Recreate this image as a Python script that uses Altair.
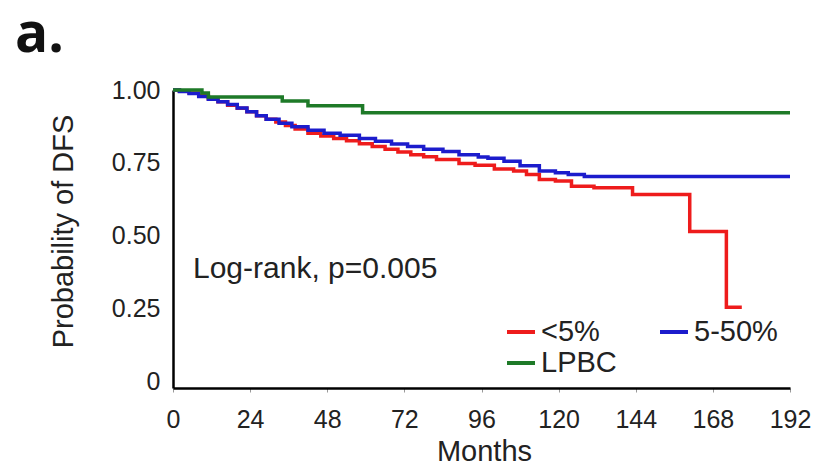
import altair as alt
import pandas as pd

groups = ["<5%", "5-50%", "LPBC"]
colors = ["#ee1c1c", "#1c1ccc", "#1e7a28"]

red_months = [0, 2, 5, 8, 11, 14, 17, 20, 23, 26, 29, 32, 35, 38, 42, 46, 50, 54, 58, 62, 66, 70,
              74, 78, 82, 89, 94, 100, 106, 110, 114, 119, 124, 131, 143, 160.8, 172.2, 177]
red_surv = [1.0, 0.996, 0.99, 0.981, 0.97, 0.96, 0.948, 0.937, 0.925, 0.912, 0.9, 0.89, 0.878, 0.866,
            0.852, 0.842, 0.834, 0.826, 0.816, 0.806, 0.797, 0.787, 0.778, 0.771, 0.762, 0.748, 0.742,
            0.729, 0.722, 0.71, 0.693, 0.688, 0.67, 0.665, 0.642, 0.515, 0.255, 0.255]

blue_months = [0, 2, 5, 8, 11, 14, 17, 20, 23, 26, 29, 33, 37, 42, 47, 52, 58, 63, 68, 73, 78, 84,
               89, 95, 98, 103, 108, 114, 119, 123, 128, 192]
blue_surv = [1.0, 0.995, 0.988, 0.978, 0.968, 0.96, 0.95, 0.938, 0.925, 0.912, 0.9, 0.886, 0.874,
             0.862, 0.852, 0.845, 0.834, 0.824, 0.815, 0.806, 0.797, 0.789, 0.778, 0.77, 0.766, 0.756,
             0.74, 0.722, 0.716, 0.71, 0.703, 0.703]

green_months = [0, 9, 11, 34, 42, 59, 192]
green_surv = [1.0, 0.99, 0.976, 0.962, 0.946, 0.922, 0.922]

x_ticks = [0, 24, 48, 72, 96, 120, 144, 168, 192]
y_ticks = [0, 0.25, 0.5, 0.75, 1.0]

panel_label = ["a."]
annotation = ["Log-rank, p=0.005"]

rows = []
for g, ms, ss in [(groups[0], red_months, red_surv),
                  (groups[1], blue_months, blue_surv),
                  (groups[2], green_months, green_surv)]:
    for m, s in zip(ms, ss):
        rows.append({"group": g, "months": m, "surv": s})
df = pd.DataFrame(rows)

FONT = "Liberation Sans"

lines = alt.Chart(df).mark_line(interpolate="step-after", strokeWidth=3.5).encode(
    x=alt.X("months:Q",
            scale=alt.Scale(domain=[0, 192], nice=False, zero=False),
            axis=alt.Axis(values=x_ticks, title="Months", tickSize=4, tickColor="#999999",
                          tickWidth=1, labelPadding=15, labelFlush=False, labelOverlap=False,
                          titleX=311, titleY=72,
                          titleBaseline="alphabetic", titleAlign="center")),
    y=alt.Y("surv:Q",
            scale=alt.Scale(domain=[-0.022, 1], nice=False, zero=False),
            axis=alt.Axis(values=y_ticks, title="Probability of DFS", ticks=False,
                          labelPadding=13, labelFlush=False, labelOverlap=False,
                          labelExpr="datum.value == 0 ? '0' : format(datum.value, '.2f')",
                          titleAngle=270, titleX=-110, titleY=141,
                          titleBaseline="middle", titleAlign="center")),
    color=alt.Color("group:N",
                    scale=alt.Scale(domain=groups, range=colors),
                    legend=alt.Legend(title=None, orient="none", legendX=332, legendY=226,
                                      direction="horizontal", columns=2,
                                      symbolType="stroke", symbolSize=784,
                                      symbolStrokeWidth=4, labelFontSize=29, labelFont=FONT,
                                      labelColor="#222222", labelOffset=4, columnPadding=35,
                                      rowPadding=0, padding=0, labelLimit=300)),
)

logrank = alt.Chart(pd.DataFrame({"t": annotation})).mark_text(
    align="left", baseline="alphabetic", fontSize=30, font=FONT, color="#222222"
).encode(x=alt.value(20), y=alt.value(188), text="t:N")

panel = alt.Chart(pd.DataFrame({"t": panel_label})).mark_text(
    align="left", baseline="alphabetic", fontSize=55, font="Open Sans", fontWeight="bold",
    color="#111111"
).encode(x=alt.value(-158), y=alt.value(-38), text="t:N")

chart = alt.layer(lines, logrank, panel).properties(
    width=617, height=298,
    padding={"left": 165, "top": 82, "right": 21, "bottom": 75},
    autosize=alt.AutoSizeParams(type="none"),
).configure_view(stroke=None).configure_axis(
    grid=False, domainColor="#000000", domainWidth=2.5,
    labelFont=FONT, labelFontSize=25, labelColor="#222222",
    titleFont=FONT, titleFontSize=29, titleFontWeight="normal", titleColor="#222222",
)

chart.save("out.html", embed_options={"renderer": "svg", "actions": False})
